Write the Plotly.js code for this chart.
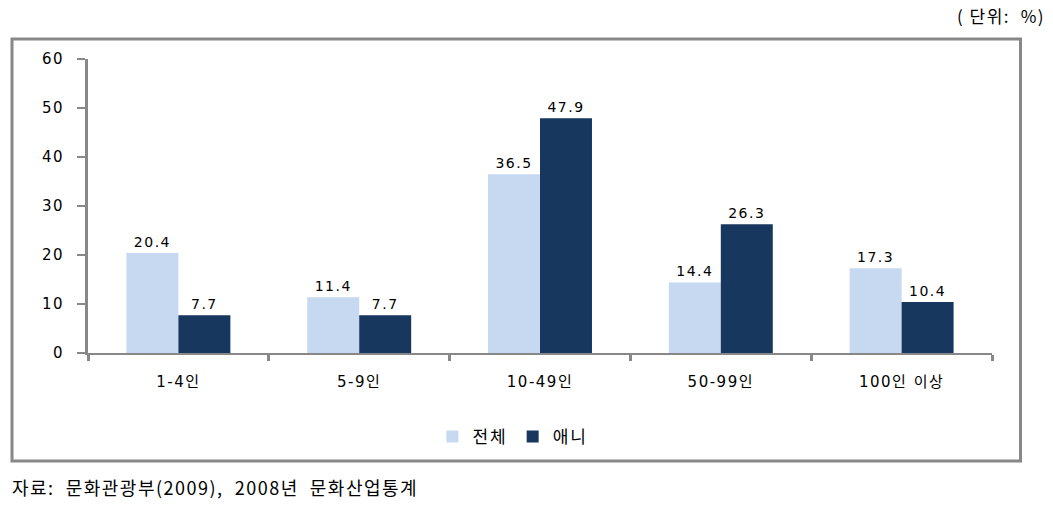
<!DOCTYPE html>
<html><head><meta charset="utf-8">
<script src="https://cdn.plot.ly/plotly-3.0.1.min.js"></script>
<style>
body{margin:0;background:#fff}#c{width:1053px;height:512px}
.ytick text{letter-spacing:1.5px}
.xtick text{letter-spacing:1.5px}
text.bartext{letter-spacing:1.5px}
text.legendtext{letter-spacing:2px}
text.annotation-text{letter-spacing:1.5px}
</style>
</head><body><div id="c"></div>
<script>
const categories = ['1-4인', '5-9인', '10-49인', '50-99인', '100인 이상'];
const seriesNames = ['전체', '애니'];
const totalValues = [20.4, 11.4, 36.5, 14.4, 17.3];
const animeValues = [7.7, 7.7, 47.9, 26.3, 10.4];
const yTicks = [0, 10, 20, 30, 40, 50, 60];

const labelFont = {family: 'DejaVu Sans, Noto Sans CJK KR, sans-serif', size: 14, color: '#000'};
function mk(name, vals, color) {
  return {type: 'bar', name: name, x: categories, y: vals, marker: {color: color},
    text: vals.map(v => v.toFixed(1)), textposition: 'outside', cliponaxis: false,
    textfont: labelFont, hoverinfo: 'none'};
}
const data = [mk(seriesNames[0], totalValues, '#c6d9f1'), mk(seriesNames[1], animeValues, '#17375e')];
const px = p => (p - 88) / 904, py = p => (353 - p) / 294;
const layout = {
  width: 1053, height: 512, margin: {l: 88, r: 61, t: 59, b: 159},
  paper_bgcolor: '#fff', plot_bgcolor: '#fff', showlegend: true,
  barmode: 'group', bargap: 0.425, bargroupgap: 0,
  font: {family: 'DejaVu Sans, Noto Sans CJK KR, sans-serif', color: '#000'},
  xaxis: {type: 'category', showline: true, linecolor: '#888', linewidth: 2, ticks: 'outside',
    tickson: 'boundaries', ticklen: 6, tickwidth: 3, tickcolor: '#888', showgrid: false,
    tickfont: {family: 'DejaVu Sans, Noto Sans CJK KR, sans-serif', size: 15, color: '#000'},
    ticklabelstandoff: 14},
  yaxis: {range: [0, 60], tickvals: yTicks, showline: true, linecolor: '#888', linewidth: 3,
    ticks: 'outside', ticklen: 8, tickwidth: 2, tickcolor: '#888', showgrid: false, zeroline: false,
    tickfont: {family: 'DejaVu Sans, sans-serif', size: 15, color: '#000'}, ticklabelstandoff: 10},
  legend: {orientation: 'h', x: 0.47, xanchor: 'center', y: py(437), yanchor: 'middle',
    font: {family: 'Noto Sans CJK KR, sans-serif', size: 17, color: '#000'},
    itemwidth: 30, traceorder: 'normal'},
  shapes: [{type: 'rect', xref: 'paper', yref: 'paper', x0: px(12), x1: px(1020.5), y0: py(461), y1: py(39),
    line: {color: '#888', width: 3}, fillcolor: 'rgba(0,0,0,0)'}],
  annotations: [
    {xref: 'paper', yref: 'paper', x: px(1047), y: py(15), xanchor: 'right', yanchor: 'middle', showarrow: false,
     text: '( 단위:  %)', font: {family: 'Noto Sans CJK KR, serif', size: 17, color: '#000'}},
    {xref: 'paper', yref: 'paper', x: px(10), y: py(487), xanchor: 'left', yanchor: 'middle', showarrow: false,
     text: '자료:  문화관광부(2009),  2008년  문화산업통계', font: {family: 'Noto Sans CJK KR, serif', size: 18, color: '#000'}}
  ]
};
Plotly.newPlot('c', data, layout, {displayModeBar: false, staticPlot: true});
</script></body></html>
